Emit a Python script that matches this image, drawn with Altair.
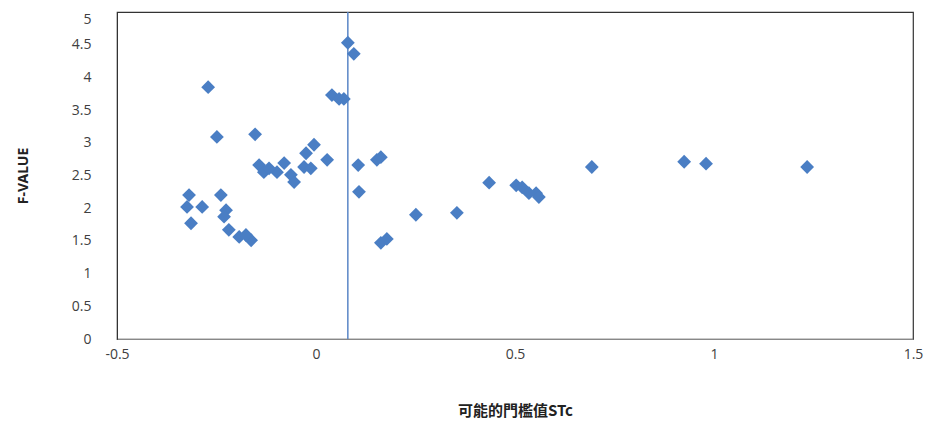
import altair as alt
import pandas as pd

stc = [0.080, 0.095, -0.271, 0.040, 0.058, 0.070, -0.249, -0.153, -0.005, -0.025,
       0.028, -0.143, -0.131, -0.080, -0.098, -0.063, -0.030, -0.055, -0.013, -0.118,
       0.106, 0.153, 0.163, 0.108, -0.319, -0.286, -0.324, -0.314, -0.239, -0.226,
       -0.231, -0.219, -0.193, -0.163, -0.176, 0.251, 0.354, 0.163, 0.178, 0.435,
       0.503, 0.518, 0.553, 0.560, 0.535, 0.693, 0.925, 0.980, 1.234]
fval = [4.53, 4.36, 3.85, 3.73, 3.67, 3.67, 3.09, 3.13, 2.97, 2.84,
        2.74, 2.66, 2.55, 2.69, 2.55, 2.51, 2.63, 2.40, 2.61, 2.61,
        2.66, 2.74, 2.78, 2.25, 2.20, 2.02, 2.02, 1.77, 2.20, 1.97,
        1.87, 1.67, 1.56, 1.51, 1.59, 1.90, 1.93, 1.47, 1.53, 2.39,
        2.35, 2.32, 2.23, 2.17, 2.23, 2.63, 2.71, 2.68, 2.63]
threshold = [0.080]

df = pd.DataFrame({"stc": stc, "f": fval})
tdf = pd.DataFrame({"t": threshold})

xscale = alt.Scale(domain=[-0.5, 1.5], nice=False, zero=False)
yscale = alt.Scale(domain=[0, 5], nice=False)

points = alt.Chart(df).mark_point(
    shape="diamond", filled=True, size=190, color="#4A7EC4", opacity=1
).encode(
    x=alt.X("stc:Q", scale=xscale,
            axis=alt.Axis(title="可能的門檻值STc", values=[-0.5, 0, 0.5, 1, 1.5],
                          labelExpr="'' + datum.value",
                          grid=False, ticks=False, domain=True, domainColor="#888888",
                          labelFontSize=14, labelColor="#404040", labelPadding=8,
                          labelFont="Open Sans",
                          titleFont="Noto Sans CJK TC", titleFontSize=15,
                          titleFontWeight="bold", titleColor="#222222", titlePadding=42,
                          labelFlush=False)),
    y=alt.Y("f:Q", scale=yscale,
            axis=alt.Axis(title="F-VALUE", values=[0, 0.5, 1, 1.5, 2, 2.5, 3, 3.5, 4, 4.5, 5],
                          labelExpr="'' + datum.value",
                          labelBaseline={"condition": {"test": "datum.value == 5", "value": "top"},
                                         "value": "middle"},
                          grid=False, ticks=False, domain=True, domainColor="#333333",
                          labelFontSize=14, labelColor="#404040", labelPadding=26,
                          labelFont="Open Sans",
                          titleFont="Noto Sans", titleFontSize=14, titleFontWeight="bold",
                          titleColor="#222222", titlePadding=41,
                          labelFlush=False)),
)

rule = alt.Chart(tdf).mark_rule(color="#5A86C6", strokeWidth=1.5).encode(
    x=alt.X("t:Q", scale=xscale)
)

chart = (rule + points).properties(
    width=796, height=327,
    autosize=alt.AutoSizeParams(type="none"),
    padding={"left": 109, "top": 4, "right": 17, "bottom": 87},
).configure_view(stroke="#333333", strokeWidth=1.2)

chart.save("out.html", embed_options={"renderer": "svg", "actions": False})
